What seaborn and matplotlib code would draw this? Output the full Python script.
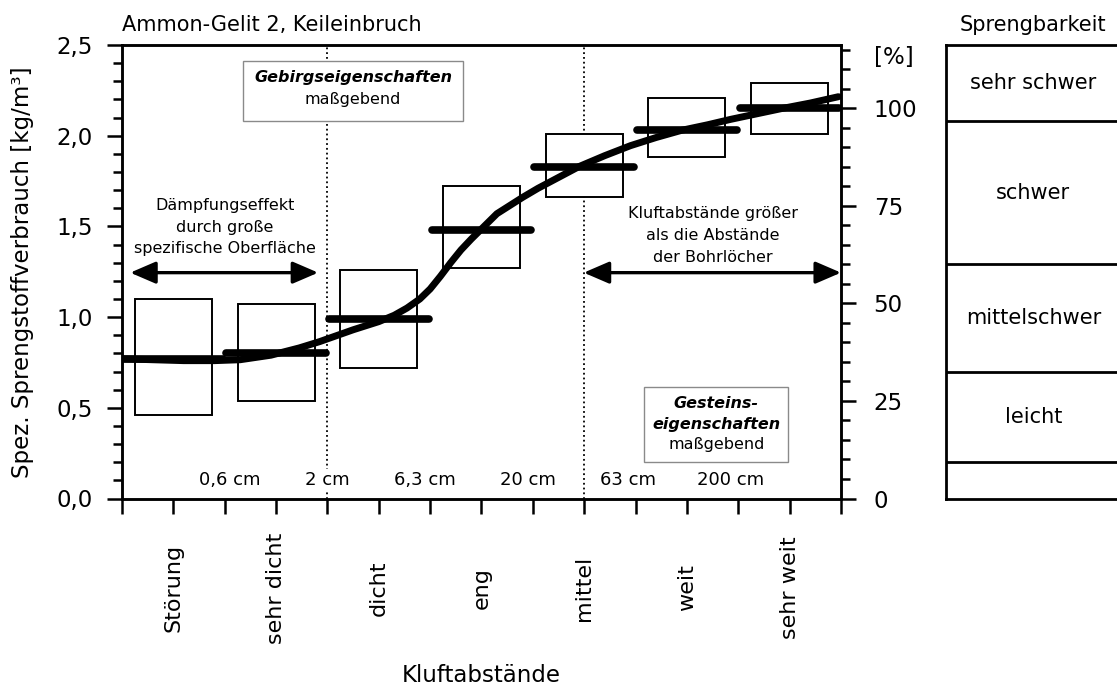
import numpy as np
import matplotlib
matplotlib.use("Agg")
import matplotlib.pyplot as plt
import seaborn as sns
from matplotlib.patches import Rectangle
from matplotlib.ticker import MultipleLocator, FuncFormatter, NullFormatter

# Kluftabstandsklassen (Position auf der x-Achse)
klassen = ["Störung", "sehr dicht", "dicht", "eng", "mittel", "weit", "sehr weit"]
klassen_pos = [1, 3, 5, 7, 9, 11, 13]

# Streubereich des spez. Sprengstoffverbrauchs je Klasse [kg/m³]
box_unten = [0.46, 0.54, 0.72, 1.27, 1.66, 1.88, 2.01]
box_oben = [1.10, 1.07, 1.26, 1.72, 2.01, 2.21, 2.29]

# Mittelwert je Klasse [kg/m³]
mittelwerte = [0.77, 0.80, 0.99, 1.48, 1.83, 2.03, 2.15]

# Ausgleichskurve
kurve_x = [0.0, 0.6, 1.2, 1.8, 2.3, 2.9, 3.45, 3.85, 4.5, 5.0, 5.3, 5.55,
           5.8, 6.0, 6.2, 6.4, 6.6, 6.8, 7.05, 7.3, 7.55, 7.8, 8.1, 8.5,
           8.9, 9.4, 9.9, 10.4, 10.9, 11.4, 11.85, 12.35, 12.85, 13.4, 13.95]
kurve_y = [0.77, 0.765, 0.76, 0.76, 0.765, 0.79, 0.83, 0.865, 0.93, 0.975,
           1.01, 1.05, 1.10, 1.155, 1.225, 1.30, 1.37, 1.43, 1.50, 1.57,
           1.615, 1.66, 1.71, 1.77, 1.83, 1.89, 1.945, 1.99, 2.03, 2.06,
           2.09, 2.12, 2.15, 2.18, 2.215]

# Grenzabstände zwischen den Klassen
abstand_pos = [2.1, 4.0, 5.9, 7.9, 9.85, 11.85]
abstand_txt = ["0,6 cm", "2 cm", "6,3 cm", "20 cm", "63 cm", "200 cm"]
bereichsgrenzen = [4, 9]

# Sprengbarkeitsklassen (Grenzen in kg/m³)
spreng_grenzen = [0.20, 0.70, 1.29, 2.08]
spreng_klassen = ["leicht", "mittelschwer", "schwer", "sehr schwer"]

sns.set_style("ticks")
plt.rcParams["font.family"] = ["DejaVu Sans"]
plt.rcParams.update({
    "axes.linewidth": 1.8,
    "text.color": "black",
    "axes.labelcolor": "black",
    "axes.edgecolor": "black",
    "xtick.color": "black",
    "ytick.color": "black",
})

W, H = 1117, 685
fig = plt.figure(figsize=(W / 100, H / 100), dpi=100)
ax = fig.add_axes([122 / W, (H - 498.5) / H, 719 / W, 453.5 / H])

YMAX = 2.5
ax.set_xlim(0, 14)
ax.set_ylim(0, YMAX)

# Bereichsgrenzen (gepunktet)
for g in bereichsgrenzen:
    ax.axvline(g, color="black", ls=":", lw=1.3, zorder=1)

# Streubereiche als Kästen
ax.bar(klassen_pos, np.subtract(box_oben, box_unten), bottom=box_unten,
       width=1.5, facecolor="white", edgecolor="black", linewidth=1.4,
       zorder=2)

# Mittelwerte als dicke Balken
hl = ax.hlines(mittelwerte, np.subtract(klassen_pos, 0.97),
               np.add(klassen_pos, 0.97), color="black", lw=5.5, zorder=3)
hl.set_capstyle("round")

# Ausgleichskurve
sns.lineplot(x=kurve_x, y=kurve_y, ax=ax, color="black", lw=5, sort=False,
             solid_capstyle="round", solid_joinstyle="round", zorder=4)

# Doppelpfeile
pfeil = dict(arrowstyle="<|-|>,head_length=0.65,head_width=0.28",
             lw=2.4, color="black", mutation_scale=24, shrinkA=0, shrinkB=0)
ax.annotate("", xy=(0.16, 1.245), xytext=(3.82, 1.245), arrowprops=pfeil,
            zorder=5)
ax.annotate("", xy=(8.99, 1.245), xytext=(14.0, 1.245), arrowprops=pfeil,
            zorder=5, annotation_clip=False)

ax.text(2.0, 1.495, "Dämpfungseffekt\ndurch große\nspezifische Oberfläche",
        ha="center", va="center", fontsize=11.5, linespacing=1.55, zorder=5)
ax.text(11.5, 1.45, "Kluftabstände größer\nals die Abstände\nder Bohrlöcher",
        ha="center", va="center", fontsize=11.5, linespacing=1.55, zorder=5)

# Hinweiskästen
ax.add_patch(Rectangle((2.36, 2.083), 4.28, 0.33, facecolor="white",
                       edgecolor="#8a8a8a", lw=1.0, zorder=3))
ax.text(4.5, 2.322, "Gebirgseigenschaften", ha="center", va="center",
        fontsize=11.5, fontweight="bold", fontstyle="italic", zorder=4)
ax.text(4.5, 2.202, "maßgebend", ha="center", va="center", fontsize=11.5,
        zorder=4)

ax.add_patch(Rectangle((10.17, 0.203), 2.8, 0.414, facecolor="white",
                       edgecolor="#8a8a8a", lw=1.0, zorder=3))
ax.text(11.57, 0.525, "Gesteins-", ha="center", va="center", fontsize=11.5,
        fontweight="bold", fontstyle="italic", zorder=4)
ax.text(11.57, 0.41, "eigenschaften", ha="center", va="center",
        fontsize=11.5, fontweight="bold", fontstyle="italic", zorder=4)
ax.text(11.57, 0.295, "maßgebend", ha="center", va="center", fontsize=11.5,
        zorder=4)

# Grenzabstände
for xp, t in zip(abstand_pos, abstand_txt):
    ax.text(xp, 0.10, t, ha="center", va="center", fontsize=13, zorder=4,
            bbox=dict(facecolor="white", edgecolor="none", pad=1.5))

# Achsen links / unten
ax.yaxis.set_major_locator(MultipleLocator(0.5))
ax.yaxis.set_minor_locator(MultipleLocator(0.1))
ax.yaxis.set_major_formatter(FuncFormatter(lambda v, p: f"{v:.1f}".replace(".", ",")))
ax.tick_params(axis="y", which="major", direction="out", length=11, width=1.8,
               labelsize=16.5, pad=10)
ax.tick_params(axis="y", which="minor", direction="out", length=6.5, width=1.8)

ax.set_xticks(range(15))
ax.xaxis.set_major_formatter(NullFormatter())
ax.xaxis.remove_overlapping_locs = False
ax.set_xticks(klassen_pos, minor=True)
ax.set_xticklabels(klassen, minor=True, rotation=90, fontsize=16)
for lbl in ax.get_xticklabels(minor=True):
    lbl.set_va("center")
ax.tick_params(axis="x", which="major", direction="out", length=11, width=1.8)
ax.tick_params(axis="x", which="minor", length=0, pad=64.4)

ax.set_ylabel("Spez. Sprengstoffverbrauch [kg/m³]", fontsize=16.5)
ax.yaxis.set_label_coords(-0.1224, 0.5)
ax.set_xlabel("Kluftabstände", fontsize=16.5, va="baseline")
ax.xaxis.set_label_coords(0.5, -0.405)
ax.set_title("Ammon-Gelit 2, Keileinbruch", loc="left", fontsize=15, pad=10)

for s in ax.spines.values():
    s.set_linewidth(1.8)
    s.set_visible(True)

# Rechte Achse in Prozent des Wertes "sehr weit"
ax2 = ax.twinx()
ax2.set_ylim(0, YMAX / mittelwerte[-1] * 100)
ax2.yaxis.set_major_locator(MultipleLocator(25))
ax2.yaxis.set_minor_locator(MultipleLocator(5))
ax2.tick_params(axis="y", which="major", direction="out", length=11,
                width=1.8, labelsize=16.5, pad=12.5)
ax2.tick_params(axis="y", which="minor", direction="out", length=6.5,
                width=1.8)
for s in ax2.spines.values():
    s.set_linewidth(1.8)
ax2.annotate("[%]", xy=(1, 113.2), xycoords=ax2.get_yaxis_transform(),
             xytext=(23.5, 0), textcoords="offset points", ha="left",
             va="center", fontsize=16.5)

# Sprengbarkeit
ax3 = fig.add_axes([945.7 / W, (H - 498.5) / H, 175.3 / W, 453.5 / H])
ax3.set_xlim(0, 1)
ax3.set_ylim(0, YMAX)
ax3.set_xticks([])
ax3.set_yticks([])
for s in ax3.spines.values():
    s.set_linewidth(2.0)
ax3.spines["right"].set_visible(False)
for g in spreng_grenzen:
    ax3.axhline(g, color="black", lw=2.0)
obergrenzen = spreng_grenzen[1:] + [YMAX]
for lo, hi, name in zip(spreng_grenzen, obergrenzen, spreng_klassen):
    ax3.text(0.5, (lo + hi) / 2, name, ha="center", va="center", fontsize=15)
ax3.set_title("Sprengbarkeit", fontsize=15, pad=10)

fig.savefig("out.png", dpi=100)
